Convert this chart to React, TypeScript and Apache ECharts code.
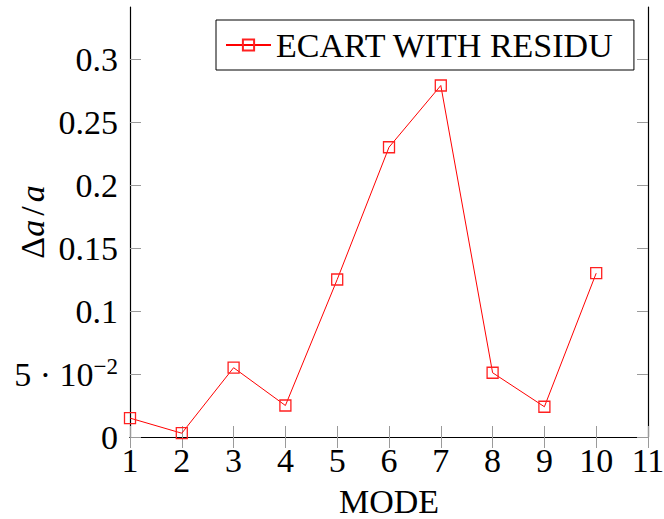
import React, { useEffect, useRef } from "react";
import * as echarts from "echarts";

const modes = [1, 2, 3, 4, 5, 6, 7, 8, 9, 10];
const residu = [0.015, 0.003, 0.055, 0.025, 0.125, 0.23, 0.279, 0.051, 0.024, 0.13];
const yTicks = [0, 0.05, 0.1, 0.15, 0.2, 0.25, 0.3];
const xTicks = [1, 2, 3, 4, 5, 6, 7, 8, 9, 10, 11];
const seriesName = "ECART WITH RESIDU";

const FONT = "Liberation Serif";
const FS = 34;

function yLabel(v: number): string {
  if (Math.abs(v - 0.05) < 1e-9) return "{m|5 · 10}{s|−2}";
  return String(+v.toFixed(2));
}

export default function App() {
  const ref = useRef<HTMLDivElement>(null);
  useEffect(() => {
    if (!ref.current) return;
    const chart = echarts.init(ref.current, undefined, { renderer: "svg" });
    const tickStyle = { show: true, inside: true, length: 11, lineStyle: { color: "#9a9a9a", width: 1 } };
    const lineAxis = { show: true, lineStyle: { color: "#000", width: 1.2 } };
    chart.setOption({
      animation: false,
      textStyle: { fontFamily: FONT },
      grid: { left: 130, top: 7, right: 16, bottom: 82, containLabel: false, outerBoundsMode: "none" },
      legend: {
        left: 216,
        top: 20,
        padding: [8, 20, 8, 9],
        borderColor: "#000",
        borderWidth: 1,
        itemWidth: 45,
        itemHeight: 14,
        textStyle: { fontSize: FS, fontFamily: FONT, color: "#000" },
        data: [seriesName],
      },
      xAxis: [
        {
          type: "value",
          position: "bottom",
          min: xTicks[0],
          max: xTicks[xTicks.length - 1],
          interval: 1,
          axisLine: lineAxis,
          axisTick: tickStyle,
          splitLine: { show: false },
          axisLabel: { fontSize: FS, color: "#000", fontFamily: FONT, margin: 6 },
          name: "MODE",
          nameLocation: "middle",
          nameGap: 47,
          nameMoveOverlap: false,
          nameTextStyle: { fontSize: FS, color: "#000", fontFamily: FONT },
        },
        {
          type: "value",
          position: "top",
          min: xTicks[0],
          max: xTicks[xTicks.length - 1],
          interval: 1,
          axisLine: lineAxis,
          axisTick: tickStyle,
          splitLine: { show: false },
          axisLabel: { show: false },
        },
      ],
      yAxis: [
        {
          type: "value",
          position: "left",
          min: 0,
          max: 0.3413,
          axisLine: lineAxis,
          axisTick: { ...tickStyle, customValues: yTicks },
          splitLine: { show: false },
          axisLabel: {
            customValues: yTicks,
            fontSize: FS,
            color: "#000",
            fontFamily: FONT,
            margin: 12,
            formatter: yLabel,
            rich: {
              m: { fontSize: FS, fontFamily: FONT, color: "#000" },
              s: { fontSize: 23, fontFamily: FONT, color: "#000", padding: [0, 0, 16, 0] },
            },
          },
          name: "{n|Δ}{i|a}{d|/}{i|a}",
          nameLocation: "middle",
          nameGap: 81,
          nameMoveOverlap: false,
          nameTextStyle: {
            color: "#000",
            fontSize: FS,
            fontFamily: FONT,
            rich: {
              n: { fontSize: FS, fontFamily: FONT, color: "#000" },
              d: { fontSize: FS, fontFamily: FONT, color: "#000", padding: [0, 4, 0, 4] },
              i: { fontSize: FS, fontFamily: FONT, fontStyle: "italic", color: "#000" },
            },
          },
        },
        {
          type: "value",
          position: "right",
          min: 0,
          max: 0.3413,
          axisLine: lineAxis,
          axisTick: { ...tickStyle, customValues: yTicks },
          splitLine: { show: false },
          axisLabel: { show: false },
        },
      ],
      series: [
        {
          name: seriesName,
          type: "line",
          xAxisIndex: 0,
          yAxisIndex: 0,
          color: "#ff0000",
          data: modes.map((m, i) => [m, residu[i]]),
          symbol: "rect",
          symbolSize: 11,
          showAllSymbol: true,
          lineStyle: { color: "#ff0000", width: 1 },
          itemStyle: { color: "transparent", borderColor: "#ff2020", borderWidth: 1.3 },
          emphasis: { disabled: true },
        },
      ],
    });
    return () => chart.dispose();
  }, []);
  return (
    <div
      ref={ref}
      style={{ position: "absolute", left: 0, top: 0, width: 664, height: 519, background: "#fff" }}
    />
  );
}
